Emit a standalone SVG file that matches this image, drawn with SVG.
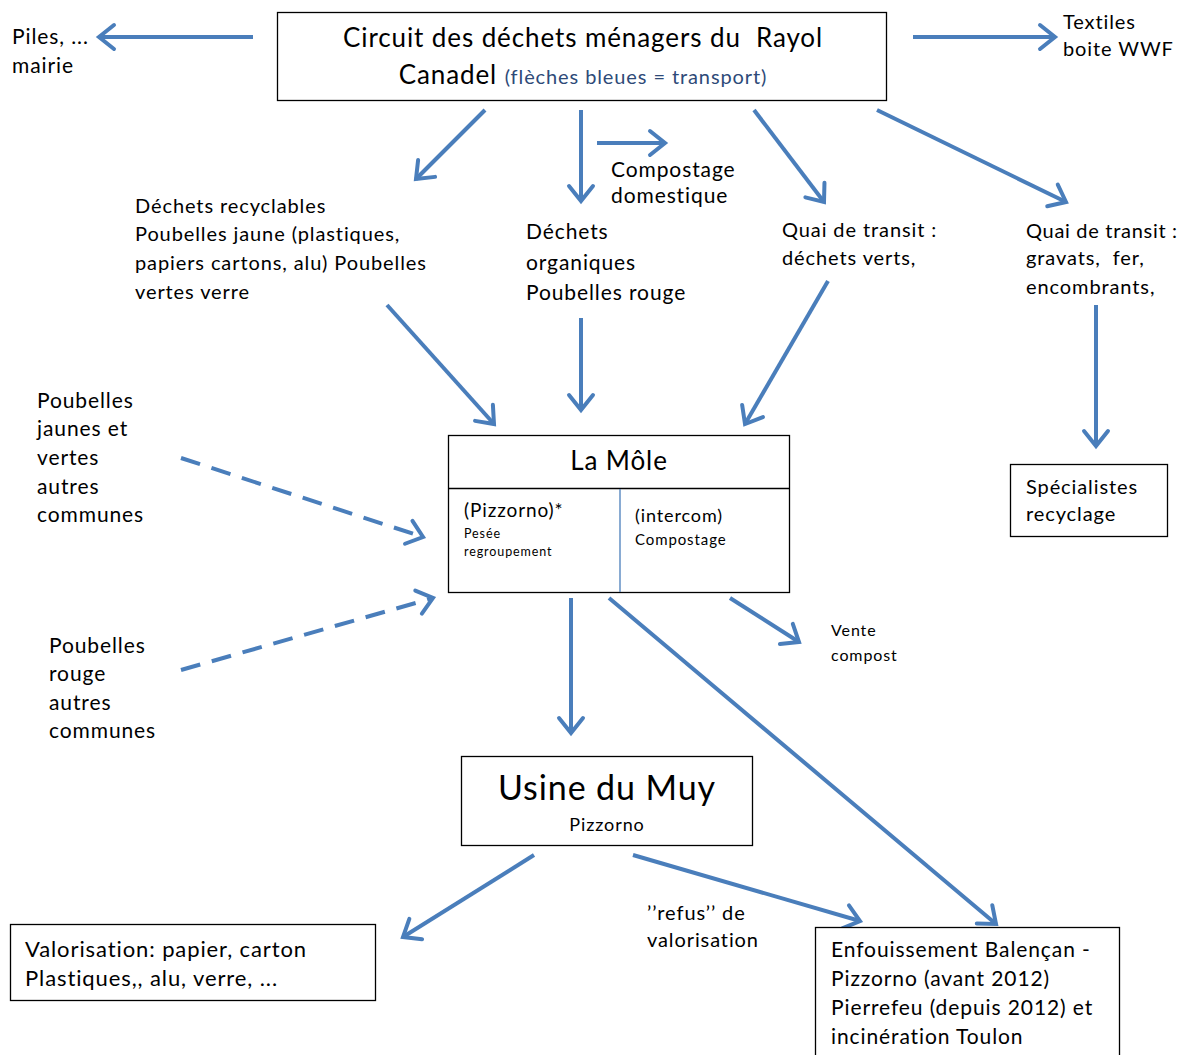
<svg xmlns="http://www.w3.org/2000/svg" width="1179" height="1055" viewBox="0 0 1179 1055">
<style>
text{font-family:Lato,"Open Sans","Liberation Sans",sans-serif;fill:#000;letter-spacing:0.9px}
.box{fill:#fff;stroke:#000;stroke-width:1.3}
.c{stroke:#4A7EBB;stroke-width:4;fill:none;marker-end:url(#ah)}
.d{stroke-dasharray:20 12}
.t21{font-size:21px}
.t20{font-size:20px}
</style>
<defs>
<marker id="ah" markerUnits="userSpaceOnUse" markerWidth="30" markerHeight="30" viewBox="-22 -15 30 30" refX="0" refY="0" orient="auto">
<path d="M-15,-12 L0,0 L-15,12" fill="none" stroke="#4A7EBB" stroke-width="4" stroke-linecap="round" stroke-linejoin="miter"/>
</marker>
</defs>
<rect width="1179" height="1055" fill="#fff"/>

<g id="connectors">
<line class="c" x1="253" y1="37" x2="99" y2="37"/>
<line class="c" x1="913" y1="37" x2="1055" y2="37"/>
<line class="c" x1="485" y1="110" x2="416" y2="179"/>
<line class="c" x1="581" y1="110" x2="581" y2="201"/>
<line class="c" x1="597" y1="143" x2="665" y2="143"/>
<line class="c" x1="754" y1="110" x2="824" y2="202"/>
<line class="c" x1="877" y1="110" x2="1066" y2="202"/>
<line class="c" x1="387" y1="305" x2="494" y2="424"/>
<line class="c" x1="581" y1="318" x2="581" y2="410"/>
<line class="c" x1="828" y1="281" x2="745" y2="424"/>
<line class="c" x1="1096" y1="305" x2="1096" y2="446"/>
<line class="c d" x1="181" y1="458" x2="423" y2="537"/>
<line class="c d" x1="181" y1="670" x2="433" y2="598"/>
<line class="c" x1="571" y1="598" x2="571" y2="733"/>
<line class="c" x1="609" y1="598" x2="996" y2="924"/>
<line class="c" x1="730" y1="598" x2="799" y2="642"/>
<line class="c" x1="534" y1="855" x2="403" y2="937"/>
<line class="c" x1="633" y1="855" x2="860" y2="921"/>
</g>

<g id="title">
<rect class="box" x="277.5" y="12.5" width="609" height="88"/>
<text x="583" y="47" font-size="26" text-anchor="middle" xml:space="preserve">Circuit des déchets ménagers du  Rayol</text>
<text x="583" y="84" text-anchor="middle"><tspan font-size="26">Canadel </tspan><tspan font-size="20" style="fill:#2E4A78">(flèches bleues = transport)</tspan></text>
</g>

<g id="piles">
<text class="t21" x="12" y="44">Piles, ...</text>
<text class="t21" x="12" y="73">mairie</text>
</g>

<g id="textiles">
<text class="t20" x="1063" y="29">Textiles</text>
<text class="t20" x="1063" y="56">boite WWF</text>
</g>

<g id="compostage-domestique">
<text class="t21" x="611" y="177">Compostage</text>
<text class="t21" x="611" y="203">domestique</text>
</g>

<g id="recyclables">
<text class="t20" x="135" y="213">Déchets recyclables</text>
<text class="t20" x="135" y="241">Poubelles jaune (plastiques,</text>
<text class="t20" x="135" y="270">papiers cartons, alu) Poubelles</text>
<text class="t20" x="135" y="299">vertes verre</text>
</g>

<g id="organiques">
<text class="t21" x="526" y="239">Déchets</text>
<text class="t21" x="526" y="270">organiques</text>
<text class="t21" x="526" y="300">Poubelles rouge</text>
</g>

<g id="quai-verts">
<text class="t20" x="782" y="237">Quai de transit :</text>
<text class="t20" x="782" y="265">déchets verts,</text>
</g>

<g id="quai-gravats">
<text class="t20" x="1026" y="238" style="letter-spacing:0.7px">Quai de transit :</text>
<text class="t20" x="1026" y="265" xml:space="preserve">gravats,  fer,</text>
<text class="t20" x="1026" y="294">encombrants,</text>
</g>

<g id="specialistes">
<rect class="box" x="1010.5" y="464.5" width="157" height="72"/>
<text class="t20" x="1026" y="494">Spécialistes</text>
<text class="t20" x="1026" y="521">recyclage</text>
</g>

<g id="la-mole">
<rect class="box" x="448.5" y="435.5" width="341" height="157"/>
<line x1="448.5" y1="488.5" x2="789.5" y2="488.5" stroke="#000" stroke-width="1.3"/>
<line x1="620" y1="489" x2="620" y2="592" stroke="#4A7EBB" stroke-width="1.3"/>
<text x="619" y="470" font-size="26" text-anchor="middle">La Môle</text>
<text x="464" y="517" font-size="19">(Pizzorno)*</text>
<text x="464" y="538" font-size="12.5">Pesée</text>
<text x="464" y="556" font-size="12.5">regroupement</text>
<text x="635" y="522" font-size="18">(intercom)</text>
<text x="635" y="545" font-size="15">Compostage</text>
</g>

<g id="autres-jv">
<text class="t21" x="37" y="408">Poubelles</text>
<text class="t21" x="37" y="436">jaunes et</text>
<text class="t21" x="37" y="465">vertes</text>
<text class="t21" x="37" y="494">autres</text>
<text class="t21" x="37" y="522">communes</text>
</g>

<g id="autres-rouge">
<text class="t21" x="49" y="653">Poubelles</text>
<text class="t21" x="49" y="681">rouge</text>
<text class="t21" x="49" y="710">autres</text>
<text class="t21" x="49" y="738">communes</text>
</g>

<g id="vente-compost">
<text x="831" y="636" font-size="16">Vente</text>
<text x="831" y="661" font-size="16">compost</text>
</g>

<g id="usine">
<rect class="box" x="461.5" y="756.5" width="291" height="89"/>
<text x="607" y="800" font-size="34" text-anchor="middle">Usine du Muy</text>
<text x="607" y="831" font-size="18" text-anchor="middle">Pizzorno</text>
</g>

<g id="refus">
<text class="t20" x="647" y="920">’’refus’’ de</text>
<text class="t20" x="647" y="947">valorisation</text>
</g>

<g id="valorisation">
<rect class="box" x="10.5" y="924.5" width="365" height="76"/>
<text x="25" y="957" font-size="22">Valorisation: papier, carton</text>
<text x="25" y="986" font-size="22">Plastiques,, alu, verre, ...</text>
</g>

<g id="enfouissement">
<rect class="box" x="815.5" y="927.5" width="304" height="140"/>
<text class="t21" x="831" y="957">Enfouissement Balençan -</text>
<text class="t21" x="831" y="986">Pizzorno (avant 2012)</text>
<text class="t21" x="831" y="1015">Pierrefeu (depuis 2012) et</text>
<text class="t21" x="831" y="1044">incinération Toulon</text>
</g>
</svg>
